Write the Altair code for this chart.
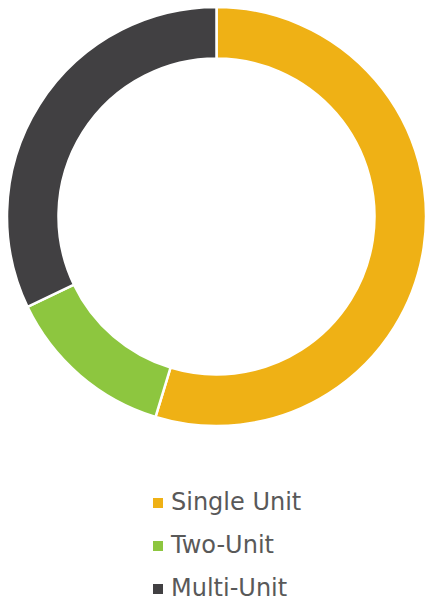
import altair as alt
import pandas as pd

categories = ["Single Unit", "Two-Unit", "Multi-Unit"]
shares = [54.7, 13.2, 32.1]
colors = ["#EFB115", "#8DC63F", "#414042"]

df = pd.DataFrame({"category": categories, "share": shares, "order": list(range(len(categories)))})

chart = alt.Chart(df).mark_arc(
    radius=209.5, radius2=158, stroke="white", strokeWidth=2.5
).encode(
    theta=alt.Theta("share:Q", stack=True),
    order=alt.Order("order:Q"),
    color=alt.Color(
        "category:N",
        sort=categories,
        scale=alt.Scale(domain=categories, range=colors),
        legend=alt.Legend(
            title=None,
            orient="none",
            legendX=138,
            legendY=483,
            padding=0,
            symbolType="square",
            symbolSize=100,
            symbolStrokeWidth=0,
            labelFontSize=24,
            labelFont="DejaVu Sans",
            labelColor="#595959",
            labelOffset=1,
            rowPadding=19,
            labelLimit=300,
        ),
    ),
    x=alt.value(208.5),
    y=alt.value(208.5),
).properties(
    width=417, height=595, padding=0,
    autosize=alt.AutoSizeParams(type="none"),
).configure_view(stroke=None)

chart.save("out.html", embed_options={"renderer": "svg", "actions": False})
